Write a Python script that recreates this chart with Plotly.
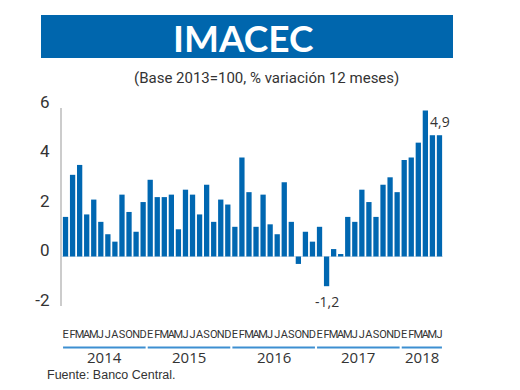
import plotly.graph_objects as go

years = ["2014", "2015", "2016", "2017", "2018"]
month_letters = ["E", "F", "M", "A", "M", "J", "J", "A", "S", "O", "N", "D"]
months_per_year = [12, 12, 12, 12, 6]

v2014 = [1.6, 3.3, 3.7, 1.7, 2.3, 1.4, 0.9, 0.6, 2.5, 1.8, 1.0, 2.2]
v2015 = [3.1, 2.4, 2.4, 2.5, 1.1, 2.7, 2.5, 1.7, 2.9, 1.4, 2.3, 2.1]
v2016 = [1.2, 4.0, 2.6, 1.2, 2.5, 1.3, 0.9, 3.0, 1.4, -0.3, 1.0, 0.6]
v2017 = [1.2, -1.2, 0.3, 0.1, 1.6, 1.4, 2.7, 2.2, 1.6, 2.9, 3.2, 2.6]
v2018 = [3.9, 4.0, 4.6, 5.9, 4.9, 4.9]

values = v2014 + v2015 + v2016 + v2017 + v2018
tick_text = []
for n in months_per_year:
    tick_text += month_letters[:n]
idx = list(range(len(values)))

BLUE = "#0067B1"
LINE_BLUE = "#3D8FD1"
TXT = "#333333"
NARROW = "Liberation Sans Narrow, Arial Narrow, Roboto, sans-serif"

W, H = 520, 390
ML, MR, MT, MB = 62, 77, 108, 84
PW, PH = W - ML - MR, H - MT - MB

def px(x):
    return (x - ML) / PW

def py(y):
    return (H - MB - y) / PH

fig = go.Figure(go.Bar(
    x=idx, y=values, marker=dict(color=BLUE, line=dict(width=0)),
    hoverinfo="y",
))

shapes = []
annotations = []

# title box
shapes.append(dict(type="rect", xref="paper", yref="paper",
                   x0=px(41), x1=px(453), y0=py(58), y1=py(15),
                   fillcolor="#0066AD", line=dict(width=0), layer="above"))
annotations.append(dict(text="<b>IMACEC</b>", xref="paper", yref="paper",
                        x=px(243), y=py(37), showarrow=False,
                        xanchor="center", yanchor="middle",
                        font=dict(family="Lato, Open Sans, sans-serif", size=37, color="white")))
annotations.append(dict(text="(Base 2013=100, % variación 12 meses)", xref="paper", yref="paper",
                        x=px(266), y=py(78), showarrow=False,
                        xanchor="center", yanchor="middle",
                        font=dict(family="Roboto, sans-serif", size=15, color=TXT)))

# year underlines & labels
start = 0
for yr, n in zip(years, months_per_year):
    end = start + n - 1
    shapes.append(dict(type="line", xref="x", yref="paper",
                       x0=start - 0.35, x1=end + 0.35, y0=py(347.5), y1=py(347.5),
                       line=dict(color=LINE_BLUE, width=2)))
    annotations.append(dict(text=yr, xref="x", yref="paper",
                            x=(start + end) / 2, y=py(357), showarrow=False,
                            xanchor="center", yanchor="middle",
                            font=dict(family="Open Sans, sans-serif", size=15, color=TXT)))
    start = end + 1

# value labels
i_min = values.index(min(values))
annotations.append(dict(text=f"{values[i_min]:.1f}".replace(".", ","), x=i_min, y=values[i_min],
                        showarrow=False, yshift=-15, xanchor="center", yanchor="middle",
                        font=dict(family="Open Sans, sans-serif", size=14, color=TXT)))
annotations.append(dict(text=f"{values[-1]:.1f}".replace(".", ","), x=len(values) - 1, y=values[-1],
                        showarrow=False, yshift=14, xshift=1, xanchor="center", yanchor="middle",
                        font=dict(family="Open Sans, sans-serif", size=14, color=TXT)))

# footer
annotations.append(dict(text="Fuente: Banco Central.", xref="paper", yref="paper",
                        x=px(45), y=py(375), showarrow=False,
                        xanchor="left", yanchor="middle",
                        font=dict(family="Liberation Sans, Arial, sans-serif", size=12.5, color=TXT)))

fig.update_layout(
    width=W, height=H,
    margin=dict(l=ML, r=MR, t=MT, b=MB, pad=0),
    paper_bgcolor="white", plot_bgcolor="white",
    bargap=0.25, showlegend=False,
    shapes=shapes, annotations=annotations,
    xaxis=dict(range=[-0.5, len(values) - 0.5], tickmode="array", tickvals=idx,
               ticktext=tick_text, tickangle=0, showgrid=False, zeroline=False,
               showline=False, ticks="", ticklabelstandoff=20,
               tickfont=dict(family=NARROW, size=11, color=TXT)),
    yaxis=dict(range=[-2, 6], tickvals=[-2, 0, 2, 4, 6], ticktext=["-2", "0", "2", "4", "6"],
               showgrid=False, zeroline=True, zerolinecolor="#D9E3EC", zerolinewidth=1,
               showline=True, linecolor="#CCCCCC", linewidth=2, ticks="",
               ticklabelstandoff=7, ticklabelshift=-6,
               tickfont=dict(family=NARROW, size=17, color=TXT)),
)

fig.write_html("out.html", config={"displayModeBar": False},
               post_script="document.body.style.margin='0px';")
